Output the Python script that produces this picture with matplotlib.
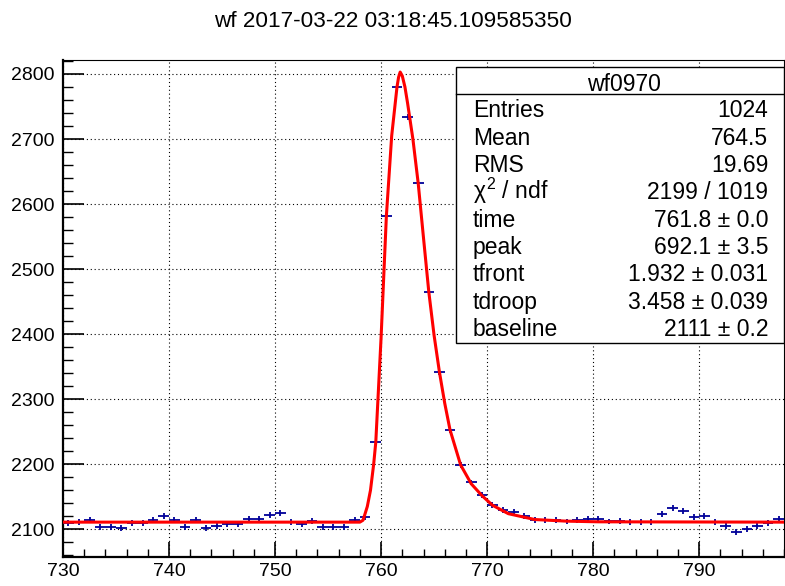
import matplotlib
matplotlib.use("Agg")
import matplotlib.pyplot as plt
from matplotlib.patches import Rectangle
from matplotlib.lines import Line2D
from matplotlib.ticker import MultipleLocator

plt.rcParams['font.family'] = ['Liberation Sans', 'DejaVu Sans']
plt.rcParams['mathtext.fontset'] = 'custom'
plt.rcParams['mathtext.rm'] = 'Liberation Sans'
plt.rcParams['mathtext.it'] = 'Liberation Sans'

# ---- data (bin centres and contents) ----
bin_x = [730.5 + i for i in range(68)]
bin_y = [2110, 2111, 2114, 2104, 2104, 2102, 2110, 2110, 2115, 2120,
         2114, 2104, 2114, 2102, 2105.5, 2107.7, 2108, 2116, 2116, 2122,
         2125, 2111, 2108, 2113, 2104, 2104, 2104, 2114, 2119, 2234,
         2582, 2780, 2734, 2632, 2465, 2342, 2253, 2199, 2172, 2153,
         2137, 2130, 2126, 2121, 2114, 2114, 2114, 2112, 2114, 2116,
         2116, 2112, 2113, 2111, 2111, 2111, 2123, 2133, 2128, 2119,
         2121, 2111, 2105, 2096, 2101, 2105, 2110, 2116]
bin_yerr = 4.5
bin_xerr = 0.5

# fit curve
fit_x = [730.0, 758.0, 758.3, 758.7, 759.0, 759.3, 759.5, 760.0, 760.5, 761.0,
         761.5, 761.65, 761.8, 762.0, 762.25, 762.5, 763.0, 763.5, 764.0, 764.5,
         765.0, 765.5, 766.0, 766.5, 767.5, 768.5, 769.5, 770.5, 772.0, 774.5,
         777.5, 780.5, 798.0]
fit_y = [2111, 2111, 2114, 2135, 2160, 2200, 2234, 2395, 2582, 2705,
         2780, 2795, 2803, 2797, 2780, 2755, 2700, 2632, 2548, 2465,
         2398, 2342, 2294, 2253, 2199, 2170, 2152, 2137, 2124, 2115,
         2112.5, 2111.5, 2111]

title = "wf 2017-03-22 03:18:45.109585350"
stats_name = "wf0970"
stats_labels = ["Entries", "Mean", "RMS", r"$\chi^{2}$ / ndf", "time", "peak",
                "tfront", "tdroop", "baseline"]
stats_values = ["1024", "764.5", "19.69", "2199 / 1019", "761.8 \u00b1 0.0",
                "692.1 \u00b1 3.5", "1.932 \u00b1 0.031", "3.458 \u00b1 0.039",
                "2111 \u00b1 0.2"]

W, H = 785, 586
fig = plt.figure(figsize=(W / 100, H / 100), dpi=100)
ax = fig.add_axes([63 / W, 1 - 557 / H, (784 - 63) / W, (557 - 60) / H])

ax.set_xlim(730, 798)
ax.set_ylim(2057.4, 2821.5)

ax.grid(True, which='major', color='black', linestyle=(0, (1, 2.5)), linewidth=0.8)
ax.set_axisbelow(True)

ax.errorbar(bin_x, bin_y, xerr=bin_xerr, yerr=bin_yerr, fmt='none',
            ecolor='#000099', elinewidth=1.3, capsize=0, zorder=3)
ax.plot(fit_x, fit_y, color='#ff0000', linewidth=2.2, zorder=4,
        solid_joinstyle='round')

ax.xaxis.set_major_locator(MultipleLocator(10))
ax.xaxis.set_minor_locator(MultipleLocator(2))
ax.yaxis.set_major_locator(MultipleLocator(100))
ax.yaxis.set_minor_locator(MultipleLocator(20))
ax.tick_params(axis='both', which='both', direction='in', top=False, right=False,
               labelsize=14, color='black')
ax.tick_params(axis='x', which='major', length=10.5, width=1.2, pad=4)
ax.tick_params(axis='x', which='minor', length=5.5, width=1.0)
ax.tick_params(axis='y', which='major', length=15, width=1.2, pad=6)
ax.tick_params(axis='y', which='minor', length=7.5, width=1.0)
for s in ['left', 'bottom']:
    ax.spines[s].set_linewidth(1.6)
for s in ['top', 'right']:
    ax.spines[s].set_linewidth(0.8)

# title
fig.text(0.5, 1 - 27 / H, title, ha='center', va='baseline', fontsize=16.2)

# stats box
bx0, bx1, by0, by1 = 456 / W, 783.5 / W, 1 - 342.7 / H, 1 - 67.3 / H
fig.patches.append(Rectangle((bx0, by0), bx1 - bx0, by1 - by0, transform=fig.transFigure,
                             facecolor='white', edgecolor='black', linewidth=1.0, zorder=10))
fig.lines.append(Line2D([bx0, bx1], [1 - 94.3 / H, 1 - 94.3 / H], transform=fig.transFigure,
                        color='black', linewidth=1.0, zorder=11))
fig.text(0.795, 1 - 90.7 / H, stats_name, ha='center', va='baseline', fontsize=16.5, zorder=12)
for i, (lab, val) in enumerate(zip(stats_labels, stats_values)):
    yb = 1 - (117.3 + 27.35 * i) / H
    fig.text(472.7 / W, yb, lab, ha='left', va='baseline', fontsize=16.5, zorder=12)
    fig.text(768.3 / W, yb, val, ha='right', va='baseline', fontsize=16.5, zorder=12)

fig.savefig("out.png", dpi=100)
